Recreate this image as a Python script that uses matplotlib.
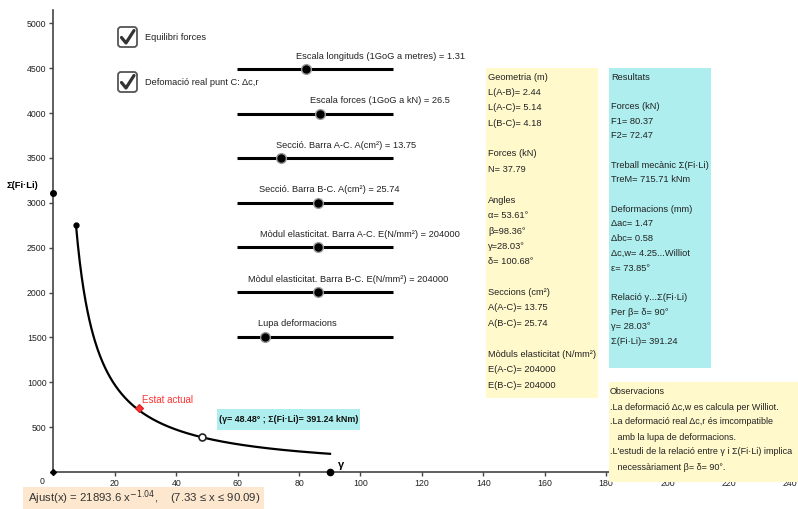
import numpy as np
import matplotlib
matplotlib.use("Agg")
import matplotlib.pyplot as plt
from matplotlib.patches import Rectangle, FancyBboxPatch

plt.rcParams['font.family'] = ['Liberation Sans', 'DejaVu Sans']
plt.rcParams['mathtext.fontset'] = 'dejavusans'

# fitted curve shown in the chart: Ajust(x) = A * x^B on [x_lo, x_hi]
AJUST_A = 21893.6
AJUST_B = -1.04
AJUST_XLO = 7.33
AJUST_XHI = 90.09

# points of the construction (gamma, sum Fi*Li)
estat_actual = (28.03, 715.71)
punt_relacio = (48.48, 391.24)
punt_eix_y = (0, 3110)
punt_gamma = (90.09, 0)

x_ticks = list(range(20, 241, 20))
y_ticks = list(range(500, 5001, 500))

# sliders: label, knob position as fraction of slider length
slider_labels = [
    "Escala longituds (1GoG a metres) = 1.31",
    "Escala forces (1GoG a kN) = 26.5",
    "Secció. Barra A-C. A(cm²) = 13.75",
    "Secció. Barra B-C. A(cm²) = 25.74",
    "Mòdul elasticitat. Barra A-C. E(N/mm²) = 204000",
    "Mòdul elasticitat. Barra B-C. E(N/mm²) = 204000",
    "Lupa deformacions",
]
slider_knob = [0.44, 0.53, 0.28, 0.52, 0.52, 0.52, 0.18]

checkbox_labels = ["Equilibri forces", "Defomació real punt C: Δc,r"]

dades = ["Geometria (m)", "L(A-B)= 2.44", "L(A-C)= 5.14", "L(B-C)= 4.18", "",
         "Forces (kN)", "N= 37.79", "",
         "Angles", "α= 53.61°", "β=98.36°", "γ=28.03°", "δ= 100.68°", "",
         "Seccions (cm²)", "A(A-C)= 13.75", "A(B-C)= 25.74", "",
         "Mòduls elasticitat (N/mm²)", "E(A-C)= 204000", "E(B-C)= 204000"]

resultats = ["Resultats", "",
             "Forces (kN)", "F1= 80.37", "F2= 72.47", "",
             "Treball mecànic Σ(Fi·Li)", "TreM= 715.71 kNm", "",
             "Deformacions (mm)", "Δac= 1.47", "Δbc= 0.58", "Δc,w= 4.25...Williot", "ε= 73.85°", "",
             "Relació γ...Σ(Fi·Li)", "Per β= δ= 90°", "γ= 28.03°", "Σ(Fi·Li)= 391.24"]

observacions = ["Observacions",
                ".La deformació Δc,w es calcula per Williot.",
                ".La deformació real Δc,r és imcompatible",
                "   amb la lupa de deformacions.",
                ".L'estudi de la relació entre γ i Σ(Fi·Li) implica",
                "   necessàriament β= δ= 90°."]

fig = plt.figure(figsize=(7.98, 5.09), dpi=100)
ax = fig.add_axes([0, 0, 1, 1])
ax.set_xlim(-17.4, 242.5)
ax.set_ylim(-412, 5260)
ax.set_facecolor('white')

# axes through origin, positive part only
for s in ['top', 'right']:
    ax.spines[s].set_visible(False)
ax.spines['left'].set_position(('data', 0))
ax.spines['bottom'].set_position(('data', 0))
ax.spines['left'].set_bounds(0, 5150)
ax.spines['bottom'].set_bounds(0, 242.5)
for s in ['left', 'bottom']:
    ax.spines[s].set_color('#444444')
    ax.spines[s].set_linewidth(1.2)
ax.set_xticks(x_ticks)
ax.set_yticks(y_ticks)
ax.tick_params(axis='both', direction='out', length=3, width=1, color='#444444',
               labelsize=6.3, labelcolor='#222222', pad=2)
ax.text(-3, -60, "0", fontsize=6.3, color='#222222', ha='right', va='top')

# fitted curve
xs = np.linspace(AJUST_XLO, AJUST_XHI, 400)
ax.plot(xs, AJUST_A * xs ** AJUST_B, color='black', lw=1.6, zorder=3)
ax.plot(AJUST_XLO, AJUST_A * AJUST_XLO ** AJUST_B, 'o', color='black', ms=3.5, zorder=4)

ax.plot(*punt_eix_y, 'o', color='black', ms=4, clip_on=False, zorder=4)
ax.plot(0, 0, 'D', color='black', ms=3, clip_on=False, zorder=4)
ax.plot(*punt_gamma, 'o', color='black', ms=4.5, zorder=4)
ax.text(punt_gamma[0] + 2.5, punt_gamma[1] + 20, "γ", fontsize=8, fontweight='bold', va='bottom')
ax.plot(*punt_relacio, 'o', mfc='white', mec='#222222', mew=1.2, ms=5, zorder=4)
ax.plot(*estat_actual, 'D', mfc='#ff3333', mec='#cc2222', mew=0.8, ms=4, zorder=4)
ax.text(estat_actual[0] + 0.8, estat_actual[1] + 90, "Estat actual", color='#ff3333',
        fontsize=7, va='center')
ax.text(-10, punt_eix_y[1] + 80, "Σ(Fi·Li)", fontsize=6.8, fontweight='bold', ha='center',
        va='center')

# overlay in pixel coordinates for the GeoGebra widgets
ui = fig.add_axes([0, 0, 1, 1], zorder=5)
ui.set_xlim(0, 798)
ui.set_ylim(509, 0)
ui.axis('off')
ui.patch.set_alpha(0)

# checkboxes
for i, lab in enumerate(checkbox_labels):
    y = 37 + 45 * i
    ui.add_patch(FancyBboxPatch((118, y - 10), 19, 20, boxstyle="round,pad=0,rounding_size=3",
                                fc='white', ec='#555555', lw=1.3))
    ui.plot([121.5, 126, 134], [y + 0.5, y + 6, y - 6.5], color='#333333', lw=2.3,
            solid_capstyle='round', solid_joinstyle='round')
    ui.text(145, y, lab, fontsize=6.7, va='center', color='#222222')

# sliders
label_x = [381, 380, 346, 329, 360, 348, 297]
for i, lab in enumerate(slider_labels):
    y = 69 + 44.6 * i
    x0, x1 = 237, 393
    ui.plot([x0, x1], [y, y], color='black', lw=2.2, solid_capstyle='butt')
    kx = x0 + slider_knob[i] * (x1 - x0)
    ui.plot(kx, y, 'o', color='black', ms=7, mec='#999999', mew=1)
    ui.text(label_x[i], y - 13, lab, fontsize=6.7, ha='center', va='center', color='#222222')

# data box
ui.add_patch(Rectangle((486, 68), 112, 330, fc='#fff9cc', ec='none'))
for i, line in enumerate(dades):
    ui.text(488, 77 + 15.4 * i, line, fontsize=6.7, va='center', color='#222222')

# results box
ui.add_patch(Rectangle((609, 68), 102, 300, fc='#aeeeee', ec='none'))
for i, line in enumerate(resultats):
    ui.text(611, 77 + 14.7 * i, line, fontsize=6.7, va='center', color='#222222')

# observations box
ui.add_patch(Rectangle((609, 382), 189, 100, fc='#fff9cc', ec='none'))
for i, line in enumerate(observacions):
    ui.text(610, 392 + 15 * i, line, fontsize=6.5, va='center', color='#222222')

# label of the relation point
ui.add_patch(Rectangle((217, 409), 143, 21, fc='#aeeeee', ec='none'))
ui.text(219, 419.5, "(γ= %.2f° ; Σ(Fi·Li)= %.2f kNm)" % punt_relacio, fontsize=6.4,
        fontweight='bold', va='center', color='#111111')

# fit formula
ui.add_patch(Rectangle((23, 487), 241, 22, fc='#fde8cf', ec='none'))
ui.text(28, 498, "Ajust(x) = 21893.6 x$^{-1.04}$,    (7.33 ≤ x ≤ 90.09)",
        fontsize=8.2, va='center', color='#333333')

fig.savefig("out.png", dpi=100)
